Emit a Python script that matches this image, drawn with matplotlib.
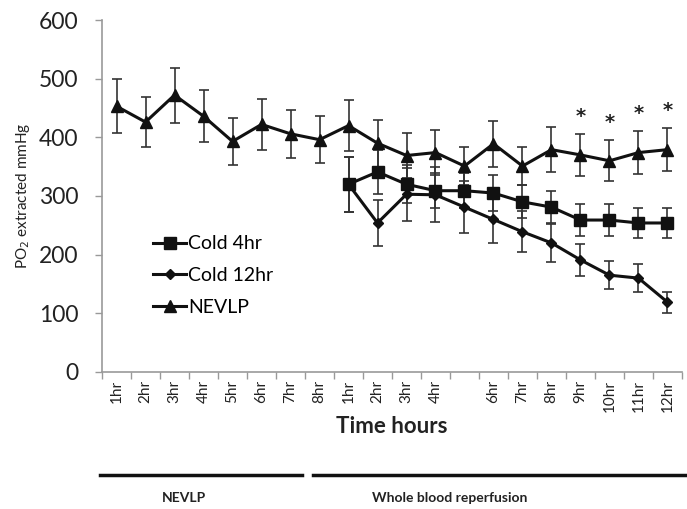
import numpy as np
import matplotlib.pyplot as plt
from matplotlib.lines import Line2D

plt.rcParams['font.family'] = ['Lato', 'DejaVu Sans']

hours = ['1hr', '2hr', '3hr', '4hr', '5hr', '6hr', '7hr', '8hr',
         '1hr', '2hr', '3hr', '4hr', '', '6hr', '7hr', '8hr',
         '9hr', '10hr', '11hr', '12hr']

nevlp = [453, 426, 472, 436, 393, 422, 406, 396,
         420, 390, 369, 374, 351, 389, 351, 379, 370, 360, 374, 379]
nevlp_err = [46, 43, 47, 44, 40, 43, 41, 40,
             43, 40, 38, 38, 33, 39, 33, 38, 36, 35, 36, 37]

cold4 = [320, 341, 320, 309, 309, 305, 290, 281, 259, 259, 254, 254]
cold4_err = [47, 37, 32, 30, 30, 31, 28, 27, 27, 27, 25, 25]

cold12 = [320, 254, 303, 302, 281, 260, 239, 220, 191, 165, 160, 119]
cold12_err = [47, 39, 45, 47, 44, 40, 35, 33, 28, 24, 24, 18]

# significance stars (index into hours)
star_idx = [16, 17, 18, 19]

x = np.arange(len(hours))
xr = x[8:]

fig = plt.figure(figsize=(6.87, 5.09), dpi=100)
ax = fig.add_axes([0.1485, 0.2692, 0.8442, 0.6915])

err_kw = dict(ecolor='#333333', elinewidth=1.2, capsize=3.5, capthick=1.2)
series = [
    (xr, cold4, cold4_err, 's', 8, 'Cold 4hr'),
    (xr, cold12, cold12_err, 'D', 5, 'Cold 12hr'),
    (x, nevlp, nevlp_err, '^', 8, 'NEVLP'),
]
handles = []
for xs, ys, es, mk, ms, name in series:
    ax.errorbar(xs, ys, yerr=es, color='#111111', lw=2.2,
                marker=mk, ms=ms, **err_kw)
    handles.append(Line2D([], [], color='#111111', lw=2.2, marker=mk,
                          ms=ms, label=name))

for i in star_idx:
    ax.text(x[i], nevlp[i] + nevlp_err[i] + 14, '*', ha='center',
            va='bottom', fontsize=14, fontweight='bold', color='#222222',
            family='DejaVu Sans')

ax.set_xlim(-0.5, len(hours) - 0.5)
ax.set_ylim(0, 600)
ax.set_yticks(range(0, 601, 100))
ax.tick_params(axis='y', labelsize=16.5, colors='#999999', labelcolor='#222222',
               length=5, width=1, pad=12)
ax.set_xticks(x)
ax.set_xticklabels(hours, rotation=90, fontsize=11, color='#222222')
ax.tick_params(axis='x', which='major', length=0, pad=6)
ax.set_xticks(np.arange(-0.5, len(hours), 1), minor=True)
ax.tick_params(axis='x', which='minor', length=5, width=1, colors='#999999')

for s in ['top', 'right']:
    ax.spines[s].set_visible(False)
for s in ['left', 'bottom']:
    ax.spines[s].set_color('#999999')
    ax.spines[s].set_linewidth(1.2)

ax.set_ylabel('PO$_2$ extracted mmHg', fontsize=11, color='#222222',
              labelpad=5)
ax.set_xlabel('Time hours', fontsize=16, fontweight='bold', color='#222222',
              labelpad=3)

ax.legend(handles=handles, loc='upper left', bbox_to_anchor=(0.075, 0.41),
          frameon=False, fontsize=14, handlelength=1.7, handletextpad=0.1,
          labelspacing=0.75, borderaxespad=0)

# phase bars under the time axis
fig.add_artist(Line2D([100 / 687, 302 / 687], [1 - 475 / 509] * 2,
                      color='#111111', lw=2.5))
fig.add_artist(Line2D([313 / 687, 687 / 687], [1 - 475 / 509] * 2,
                      color='#111111', lw=2.5))
fig.text(184 / 687, 1 - 498 / 509, 'NEVLP', ha='center', va='center',
         fontsize=10, fontweight='bold', color='#222222')
fig.text(450 / 687, 1 - 498 / 509, 'Whole blood reperfusion', ha='center',
         va='center', fontsize=10, fontweight='bold', color='#222222')

fig.savefig('out.png', dpi=100)
